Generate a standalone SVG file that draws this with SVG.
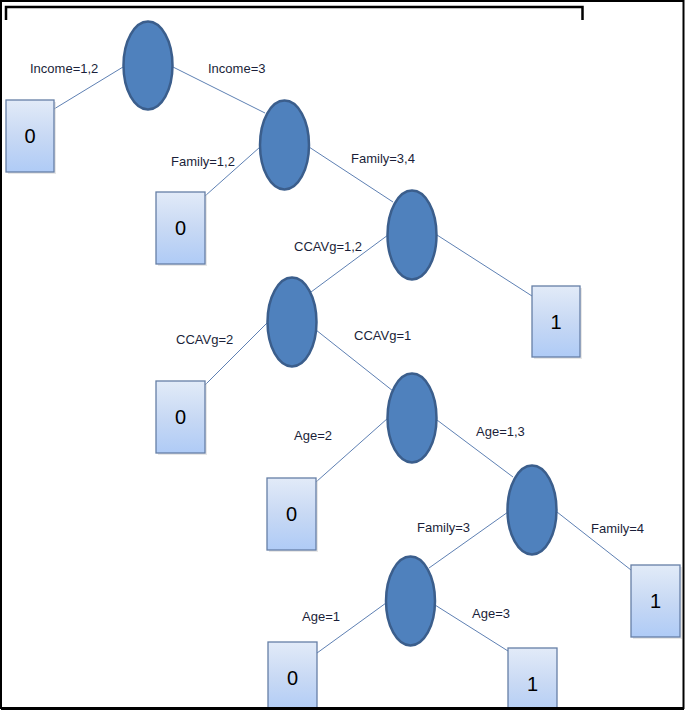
<svg xmlns="http://www.w3.org/2000/svg" width="685" height="710" viewBox="0 0 685 710">
<defs>
<linearGradient id="boxg" x1="0" y1="0" x2="0" y2="1">
<stop offset="0" stop-color="#e2ebf8"/>
<stop offset="0.5" stop-color="#c8d9f4"/>
<stop offset="1" stop-color="#afcbf6"/>
</linearGradient>
</defs>
<style>
.leaf rect.b{fill:url(#boxg);stroke:#667fa6;stroke-width:1.3}
.leaf rect.s{fill:#d0d0d0;opacity:0.5}
.leaf text{font-family:"Liberation Sans",Arial,sans-serif;font-size:20px;fill:#000;text-anchor:middle}
.node ellipse{fill:#4f81bd;stroke:#3b5e8c;stroke-width:2.5}
#connectors line{stroke:#5e80b3;stroke-width:1}
.lbl{font-family:"Liberation Sans",Arial,sans-serif;font-size:13px;fill:#1b1f3a}
</style>
<rect x="0" y="0" width="685" height="710" fill="#fff"/>
<rect x="1" y="1" width="682.5" height="707" fill="none" stroke="#000" stroke-width="2"/>
<path d="M6,20 V7 H582.5 V20" fill="none" stroke="#000" stroke-width="2.5"/>

<g id="connectors">
<line x1="123" y1="67" x2="54" y2="109"/>
<line x1="173" y1="67" x2="265" y2="113"/>
<line x1="260" y1="147" x2="205" y2="196"/>
<line x1="309" y1="147" x2="393" y2="202"/>
<line x1="388" y1="235" x2="311" y2="292"/>
<line x1="437" y1="235" x2="532" y2="296"/>
<line x1="268" y1="322" x2="205" y2="385"/>
<line x1="316" y1="330" x2="393" y2="391"/>
<line x1="388" y1="418" x2="316" y2="482"/>
<line x1="437" y1="420" x2="513" y2="477"/>
<line x1="508" y1="512" x2="429" y2="568"/>
<line x1="557" y1="512" x2="631" y2="570"/>
<line x1="386" y1="603" x2="317" y2="653"/>
<line x1="435" y1="605" x2="508" y2="651"/>
</g>

<g id="labels">
<text class="lbl" x="30" y="73">Income=1,2</text>
<text class="lbl" x="208" y="73">Income=3</text>
<text class="lbl" x="171" y="166">Family=1,2</text>
<text class="lbl" x="351" y="163">Family=3,4</text>
<text class="lbl" x="294" y="251">CCAVg=1,2</text>
<text class="lbl" x="176" y="344">CCAVg=2</text>
<text class="lbl" x="354" y="340">CCAVg=1</text>
<text class="lbl" x="294" y="440">Age=2</text>
<text class="lbl" x="476" y="436">Age=1,3</text>
<text class="lbl" x="417" y="532">Family=3</text>
<text class="lbl" x="591" y="533">Family=4</text>
<text class="lbl" x="302" y="621">Age=1</text>
<text class="lbl" x="472" y="618">Age=3</text>
</g>

<g id="n_root" class="node"><ellipse cx="148" cy="65.5" rx="24.5" ry="44"/></g>
<g id="n_family" class="node"><ellipse cx="284.5" cy="145" rx="24.5" ry="44.5"/></g>
<g id="n_ccavg" class="node"><ellipse cx="412" cy="235" rx="24.5" ry="44.5"/></g>
<g id="n_ccavg2" class="node"><ellipse cx="292" cy="322" rx="24.5" ry="44.5"/></g>
<g id="n_age" class="node"><ellipse cx="412" cy="418" rx="24.5" ry="44.5"/></g>
<g id="n_family2" class="node"><ellipse cx="532" cy="510" rx="24.5" ry="44.5"/></g>
<g id="n_age2" class="node"><ellipse cx="410.5" cy="601" rx="24.5" ry="44.5"/></g>

<g id="leaf1" class="leaf"><rect class="s" x="8" y="102" width="48" height="72"/><rect class="b" x="6" y="100" width="48" height="72"/><text x="30" y="143">0</text></g>
<g id="leaf2" class="leaf"><rect class="s" x="158" y="194" width="49" height="72"/><rect class="b" x="156" y="192" width="49" height="72"/><text x="180.5" y="235">0</text></g>
<g id="leaf3" class="leaf"><rect class="s" x="534" y="288" width="48" height="71"/><rect class="b" x="532" y="286" width="48" height="71"/><text x="556" y="329">1</text></g>
<g id="leaf4" class="leaf"><rect class="s" x="158" y="383" width="49" height="72"/><rect class="b" x="156" y="381" width="49" height="72"/><text x="180.5" y="424">0</text></g>
<g id="leaf5" class="leaf"><rect class="s" x="269" y="480" width="49" height="72"/><rect class="b" x="267" y="478" width="49" height="72"/><text x="291.5" y="521">0</text></g>
<g id="leaf6" class="leaf"><rect class="s" x="633" y="567" width="49" height="72"/><rect class="b" x="631" y="565" width="49" height="72"/><text x="655.5" y="608">1</text></g>
<g id="leaf7" class="leaf"><rect class="b" x="268" y="642" width="49" height="72"/><text x="292.5" y="685">0</text></g>
<g id="leaf8" class="leaf"><rect class="b" x="508" y="648" width="49" height="72"/><text x="532.5" y="691">1</text></g>
<rect x="1" y="707" width="683" height="3" fill="#000"/>
</svg>
